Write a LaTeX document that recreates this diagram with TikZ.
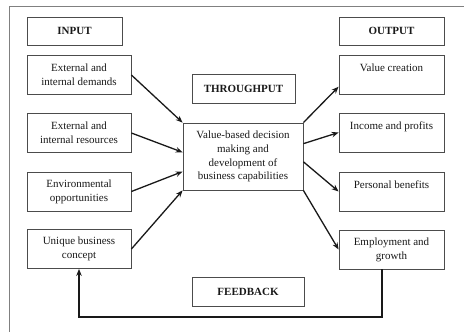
\documentclass[tikz,border=0pt]{standalone}
\usepackage{fontspec}
\setmainfont{Liberation Serif}
\usetikzlibrary{arrows.meta}
\tikzset{
  stagebox/.style={draw=black!70, line width=0.8pt, inner sep=0pt, align=center,
    text=black!90, font=\fontsize{11}{13.9}\selectfont},
  headbox/.style={stagebox, minimum height=28pt, font=\fontsize{11}{13.9}\selectfont\bfseries},
  inbox/.style={stagebox, minimum width=104pt, minimum height=39pt},
  outbox/.style={stagebox, minimum width=105pt, minimum height=39pt},
  flow/.style={draw=black!90, line width=1.3pt, -{Stealth[length=7pt,width=5.5pt]}}
}
\begin{document}
\begin{tikzpicture}[x=1pt, y=-1pt]
        \useasboundingbox (0,0) rectangle (464,332);
        \draw[black!50, line width=0.8pt] (9,332) -- (9,6) -- (464,6);

        % input side
        \draw (74.5,31) node[headbox, name=input, minimum width=95pt] {INPUT};
        \draw (79,75) node[inbox, name=demands] {External and\\internal demands};
        \draw (79,133) node[inbox, name=resources] {External and\\internal resources};
        \draw (79,191.5) node[inbox, name=environment] {Environmental\\opportunities};
        \draw (79,249) node[inbox, name=unique] {Unique business\\concept};

        % throughput
        \draw (243.5,88.5) node[headbox, name=throughput, minimum width=103pt, minimum height=29pt] {THROUGHPUT};
        \draw (243,156.5) node[stagebox, name=decision, minimum width=120pt, minimum height=67pt]
          {Value-based decision\\making and\\development of\\business capabilities};
        \draw (248,291.5) node[headbox, name=feedback, minimum width=112pt, minimum height=29pt] {FEEDBACK};

        % output side
        \draw (391.5,31) node[headbox, name=output, minimum width=105pt] {OUTPUT};
        \draw (391.5,74.5) node[outbox, name=value] {Value creation\\~};
        \draw (391.5,132.5) node[outbox, name=income] {Income and profits\\~};
        \draw (391.5,191.5) node[outbox, name=personal] {Personal benefits\\~};
        \draw (391.5,249.5) node[outbox, name=employment] {Employment and\\growth};

        % connectors
        \draw[flow] (demands.east) -- (decision.north west);
        \draw[flow] (resources.east) -- (decision.176.7);
        \draw[flow] (environment.east) -- (decision.194.4);
        \draw[flow] (unique.east) -- (decision.south west);

        \draw[flow] (decision.north east) -- (value.193.4);
        \draw[flow] (decision.12.7) -- (income.west);
        \draw[flow] (decision.-5.2) -- (personal.west);
        \draw[flow] (decision.south east) -- (employment.west);

        \coordinate (loop) at (200,317);
        \draw[flow] ([xshift=-9.5pt]employment.south) |- (loop) -| (unique.south);
\end{tikzpicture}
\end{document}
